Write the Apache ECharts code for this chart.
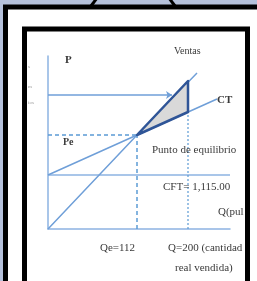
<!DOCTYPE html>
<html>
<head>
    <meta charset="UTF-8">
    <title>Punto de equilibrio</title>
    <script src="https://cdn.jsdelivr.net/npm/echarts@6/dist/echarts.min.js"></script>
    <style>
        html, body { margin: 0; padding: 0; background: #b5c1db; }
        #chart { width: 257px; height: 281px; }
    </style>
</head>
<body>
    <div id="chart"></div>
    <script>
        // schematic units: x = quantity position, y = money position
        var salesLine = [[0, 0], [89, 94], [149, 156]];
        var costLine = [[0, 54], [89, 94], [169, 130]];
        var fixedCost = [[0, 54], [182, 54]];
        var peLine = [[0, 94], [89, 94]];
        var qeLine = [[89, 0], [89, 94]];
        var q200Line = [[140, 0], [140, 148]];
        var priceArrow = [[0, 134], [124, 134]];
        var profitArea = [[89, 94], [140, 148], [140, 117]];

        var chart = echarts.init(document.getElementById('chart'), null, {renderer: 'canvas'});

        var blue = '#6f9fd8';
        var serif = 'Liberation Serif';

        function label(text, x, y, size, bold) {
            return {
                type: 'text', left: x, top: y, z: 50,
                style: { text: text, font: (bold ? 'bold ' : '') + size + 'px ' + serif, fill: '#3a3a3a' }
            };
        }

        chart.setOption({
            animation: false,
            backgroundColor: 'transparent',
            grid: { left: 48, top: 56, width: 182, height: 173 },
            xAxis: {
                type: 'value', min: 0, max: 182,
                axisLine: { show: true, lineStyle: { color: '#8db3e2', width: 1.5 } },
                axisTick: { show: false }, axisLabel: { show: false }, splitLine: { show: false }
            },
            yAxis: {
                type: 'value', min: 0, max: 173,
                axisLine: { show: true, lineStyle: { color: '#8db3e2', width: 1.5 } },
                axisTick: { show: false }, axisLabel: { show: false }, splitLine: { show: false }
            },
            graphic: [
                { type: 'rect', z: -20, shape: { x: 5.5, y: 7, width: 280, height: 300 }, style: { fill: '#fff', stroke: '#000', lineWidth: 5 } },
                { type: 'line', z: -20, shape: { x1: 91, y1: 6, x2: 97, y2: -2 }, style: { stroke: '#000', lineWidth: 3 } },
                { type: 'line', z: -20, shape: { x1: 169, y1: -2, x2: 175, y2: 6 }, style: { stroke: '#000', lineWidth: 3 } },
                { type: 'rect', z: -19, shape: { x: 24.5, y: 29, width: 223, height: 300 }, style: { fill: '#fff' } },
                { type: 'rect', z: 100, shape: { x: 24.5, y: 29, width: 223, height: 300 }, style: { fill: null, stroke: '#000', lineWidth: 5 } },
                { type: 'rect', z: 99, shape: { x: 250, y: 31, width: 10, height: 260 }, style: { fill: '#fff' } },
                { type: 'text', left: 28, top: 64, z: 50, style: { text: 's', font: '5px ' + serif, fill: '#999' } },
                { type: 'text', left: 28, top: 84, z: 50, style: { text: 'm', font: '5px ' + serif, fill: '#999' } },
                { type: 'text', left: 28, top: 100, z: 50, style: { text: 'ios', font: '5px ' + serif, fill: '#999' } },
                label('P', 65, 55, 11, true),
                label('Ventas', 174, 46, 10, false),
                label('CT', 217, 95, 11, true),
                label('Pe', 63, 137, 10, true),
                label('Punto de equilibrio', 152, 145, 11, false),
                label('CFT= 1,115.00', 163, 182, 11, false),
                label('Q(pul', 218, 207, 11, false),
                label('Qe=112', 100, 243, 11, false),
                label('Q=200 (cantidad', 168, 243, 11, false),
                label('real vendida)', 175, 263, 11, false)
            ],
            series: [
                { type: 'line', data: fixedCost, symbol: 'none', lineStyle: { color: '#8db3e2', width: 1.5 } },
                { type: 'line', data: peLine, symbol: 'none', lineStyle: { color: '#5b9bd5', width: 1.5, type: [4, 3] } },
                { type: 'line', data: qeLine, symbol: 'none', lineStyle: { color: '#5b9bd5', width: 1.5, type: [4, 3] } },
                { type: 'line', data: q200Line, symbol: 'none', lineStyle: { color: '#5b9bd5', width: 1.2, type: [2, 2] } },
                { type: 'line', data: salesLine, symbol: 'none', lineStyle: { color: blue, width: 1.5 } },
                { type: 'line', data: costLine, symbol: 'none', lineStyle: { color: blue, width: 1.5 } },
                {
                    type: 'lines', coordinateSystem: 'cartesian2d',
                    symbol: ['none', 'arrow'], symbolSize: 6,
                    lineStyle: { color: blue, width: 1.5, opacity: 1 },
                    data: [{ coords: priceArrow }]
                },
                {
                    type: 'custom', z: 5,
                    data: [0],
                    renderItem: function (params, api) {
                        return {
                            type: 'polygon',
                            shape: { points: profitArea.map(function (p) { return api.coord(p); }) },
                            style: { fill: '#d9d9d9', stroke: '#2f5597', lineWidth: 2.5, lineJoin: 'round' }
                        };
                    }
                }
            ]
        });
    </script>
</body>
</html>
